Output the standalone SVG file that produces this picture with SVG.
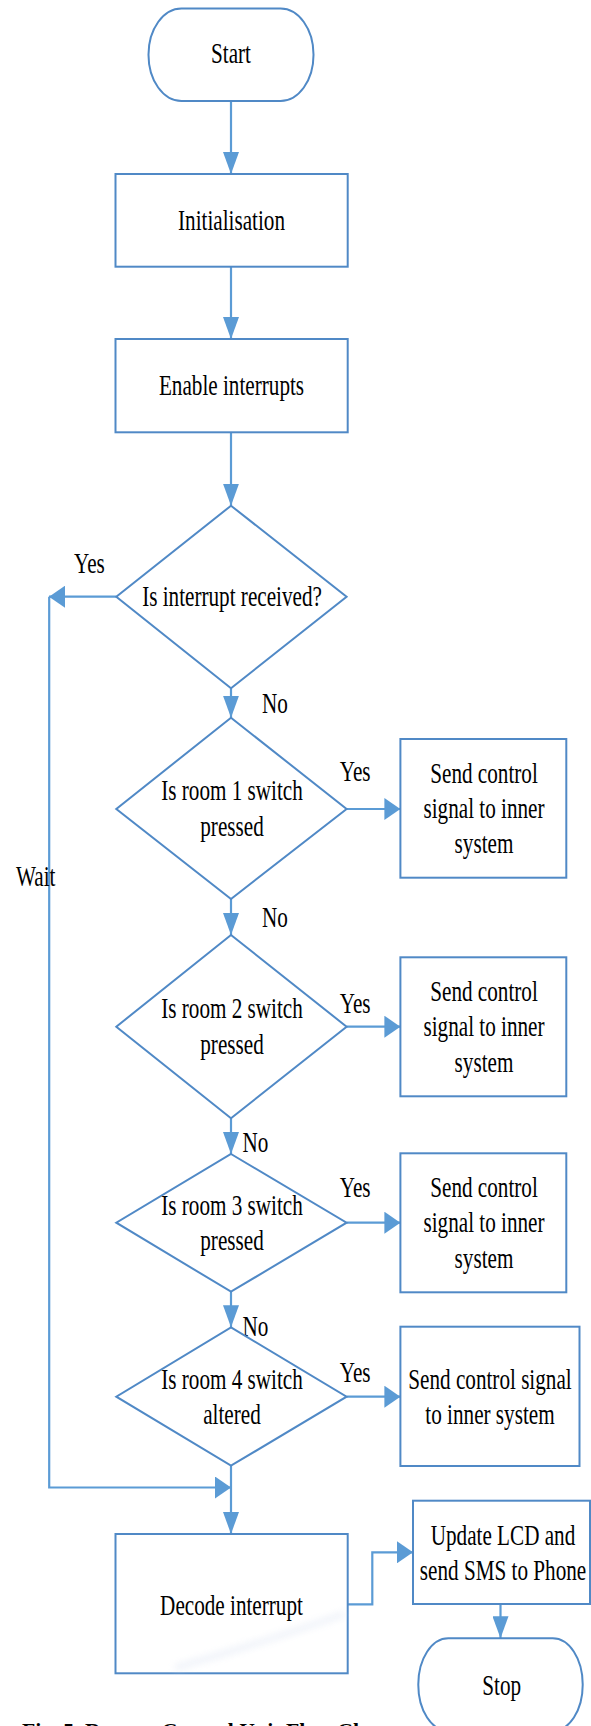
<svg xmlns="http://www.w3.org/2000/svg" width="591" height="1726" viewBox="0 0 591 1726">
  <style>
    .shape { fill: #ffffff; stroke: #5089c6; stroke-width: 2; }
    .wire { fill: none; stroke: #5b9bd5; stroke-width: 2.2; }
    .t { font-family: "Liberation Serif", "Times New Roman", serif; font-size: 29px; fill: #000000; text-anchor: middle; }
    .lbl { font-family: "Liberation Serif", "Times New Roman", serif; font-size: 29px; fill: #000000; text-anchor: start; }
    .cap { font-family: "Liberation Serif", "Times New Roman", serif; font-size: 22px; font-weight: bold; fill: #000000; }
  </style>
  <defs>
    <!-- arrowhead for vertical runs (drawn taller than wide) -->
    <marker id="headV" markerUnits="userSpaceOnUse" markerWidth="22" markerHeight="16" refX="22" refY="8" orient="auto">
      <path d="M0,0 L22,8 L0,16 Z" fill="#5b9bd5"/>
    </marker>
    <!-- arrowhead for horizontal runs -->
    <marker id="headH" markerUnits="userSpaceOnUse" markerWidth="16" markerHeight="22" refX="16" refY="11" orient="auto">
      <path d="M0,0 L16,11 L0,22 Z" fill="#5b9bd5"/>
    </marker>
    <filter id="soft" x="-20%" y="-50%" width="140%" height="200%">
      <feGaussianBlur stdDeviation="3.5"/>
    </filter>
  </defs>

  <rect x="0" y="0" width="591" height="1726" fill="#ffffff"/>

  <!-- connectors -->
  <g id="connectors">
    <path class="wire" d="M231,101 V174" marker-end="url(#headV)"/>
    <path class="wire" d="M231,266.7 V339" marker-end="url(#headV)"/>
    <path class="wire" d="M231,432.3 V505.7" marker-end="url(#headV)"/>
    <path class="wire" d="M231,688.3 V717.7" marker-end="url(#headV)"/>
    <path class="wire" d="M231,899 V935" marker-end="url(#headV)"/>
    <path class="wire" d="M231,1118.3 V1154" marker-end="url(#headV)"/>
    <path class="wire" d="M231,1291.7 V1327.3" marker-end="url(#headV)"/>
    <path class="wire" d="M231,1465.7 V1534" marker-end="url(#headV)"/>
    <!-- yes branch of the interrupt test, loops back as "Wait" -->
    <path class="wire" d="M116.3,596.7 H49" marker-end="url(#headH)"/>
    <path class="wire" d="M49.2,596.7 V1487.5 H231" marker-end="url(#headH)"/>
    <!-- yes branches to the room actions -->
    <path class="wire" d="M346.6,809 H400.4" marker-end="url(#headH)"/>
    <path class="wire" d="M346.6,1026.7 H400.4" marker-end="url(#headH)"/>
    <path class="wire" d="M346.6,1222.7 H400.4" marker-end="url(#headH)"/>
    <path class="wire" d="M346.6,1396.7 H400.4" marker-end="url(#headH)"/>
    <!-- decode to update, update to stop -->
    <path class="wire" d="M347.7,1604.3 H372.3 V1552.3 H413" marker-end="url(#headH)"/>
    <path class="wire" d="M500.5,1604 V1638.3" marker-end="url(#headV)"/>

    <text class="lbl" transform="translate(74 572.7) scale(0.73 1)">Yes</text>
    <text class="lbl" transform="translate(16 886) scale(0.73 1)">Wait</text>
    <text class="lbl" transform="translate(262 712.7) scale(0.73 1)">No</text>
    <text class="lbl" transform="translate(262 927.3) scale(0.73 1)">No</text>
    <text class="lbl" transform="translate(242.4 1151.7) scale(0.73 1)">No</text>
    <text class="lbl" transform="translate(242.4 1336) scale(0.73 1)">No</text>
    <text class="lbl" transform="translate(339.8 781) scale(0.73 1)">Yes</text>
    <text class="lbl" transform="translate(339.8 1012.7) scale(0.73 1)">Yes</text>
    <text class="lbl" transform="translate(339.8 1196.7) scale(0.73 1)">Yes</text>
    <text class="lbl" transform="translate(339.8 1382.3) scale(0.73 1)">Yes</text>
  </g>

  <g id="start">
    <rect class="shape" x="148.5" y="8.5" width="165" height="92.5" rx="33" ry="46"/>
    <text class="t" transform="translate(231 63.3) scale(0.73 1)">Start</text>
  </g>

  <g id="init">
    <rect class="shape" x="115.5" y="174" width="232.2" height="92.7"/>
    <text class="t" transform="translate(231.5 230) scale(0.73 1)">Initialisation</text>
  </g>

  <g id="enable">
    <rect class="shape" x="115.5" y="339" width="232.2" height="93.3"/>
    <text class="t" transform="translate(231.5 395) scale(0.73 1)">Enable interrupts</text>
  </g>

  <g id="q-interrupt">
    <polygon class="shape" points="231,505.7 346.6,596.7 231,688.3 116.3,596.7"/>
    <text class="t" transform="translate(232 606) scale(0.73 1)">Is interrupt received?</text>
  </g>

  <g id="q-room1">
    <polygon class="shape" points="231,717.7 346.6,809 231,899 116.3,809"/>
    <text class="t" transform="translate(232 800) scale(0.73 1)">Is room 1 switch</text>
    <text class="t" transform="translate(232 835.5) scale(0.73 1)">pressed</text>
  </g>

  <g id="act-room1">
    <rect class="shape" x="400.4" y="739" width="165.9" height="138.7"/>
    <text class="t" transform="translate(484 782.7) scale(0.73 1)">Send control</text>
    <text class="t" transform="translate(484 818) scale(0.73 1)">signal to inner</text>
    <text class="t" transform="translate(484 853) scale(0.73 1)">system</text>
  </g>

  <g id="q-room2">
    <polygon class="shape" points="231,935 346.6,1026.7 231,1118.3 116.3,1026.7"/>
    <text class="t" transform="translate(232 1018.3) scale(0.73 1)">Is room 2 switch</text>
    <text class="t" transform="translate(232 1054) scale(0.73 1)">pressed</text>
  </g>

  <g id="act-room2">
    <rect class="shape" x="400.4" y="957.3" width="165.9" height="139"/>
    <text class="t" transform="translate(484 1001) scale(0.73 1)">Send control</text>
    <text class="t" transform="translate(484 1036) scale(0.73 1)">signal to inner</text>
    <text class="t" transform="translate(484 1071.7) scale(0.73 1)">system</text>
  </g>

  <g id="q-room3">
    <polygon class="shape" points="231,1154 346.6,1222.7 231,1291.7 116.3,1222.7"/>
    <text class="t" transform="translate(232 1215) scale(0.73 1)">Is room 3 switch</text>
    <text class="t" transform="translate(232 1250) scale(0.73 1)">pressed</text>
  </g>

  <g id="act-room3">
    <rect class="shape" x="400.4" y="1153.3" width="165.9" height="139"/>
    <text class="t" transform="translate(484 1196.7) scale(0.73 1)">Send control</text>
    <text class="t" transform="translate(484 1231.7) scale(0.73 1)">signal to inner</text>
    <text class="t" transform="translate(484 1267.7) scale(0.73 1)">system</text>
  </g>

  <g id="q-room4">
    <polygon class="shape" points="231,1327.3 346.6,1396.7 231,1465.7 116.3,1396.7"/>
    <text class="t" transform="translate(232 1389.3) scale(0.73 1)">Is room 4 switch</text>
    <text class="t" transform="translate(232 1424) scale(0.73 1)">altered</text>
  </g>

  <g id="act-room4">
    <rect class="shape" x="400.4" y="1326.7" width="179.1" height="139.3"/>
    <text class="t" transform="translate(490 1389.3) scale(0.73 1)">Send control signal</text>
    <text class="t" transform="translate(490 1424) scale(0.73 1)">to inner system</text>
  </g>

  <g id="decode">
    <rect class="shape" x="115.5" y="1534" width="232.2" height="139.3"/>
    <!-- faint print streak across the lower right corner -->
    <path d="M175,1668 Q265,1642 344,1614" fill="none" stroke="#dbe3f2" stroke-width="6" opacity="0.45" filter="url(#soft)"/>
    <text class="t" transform="translate(231.5 1615) scale(0.73 1)">Decode interrupt</text>
  </g>

  <g id="update">
    <rect class="shape" x="413" y="1500.7" width="177" height="103.3"/>
    <text class="t" transform="translate(503 1545) scale(0.73 1)">Update LCD and</text>
    <text class="t" transform="translate(503 1580) scale(0.73 1)">send SMS to Phone</text>
  </g>

  <g id="stop">
    <rect class="shape" x="418.3" y="1638.3" width="164.4" height="92.7" rx="30" ry="46"/>
    <text class="t" transform="translate(501.7 1695) scale(0.73 1)">Stop</text>
  </g>

  <text class="cap" x="22" y="1738" textLength="371" lengthAdjust="spacingAndGlyphs">Fig. 5.  Remote Control Unit Flow Chart</text>
</svg>
